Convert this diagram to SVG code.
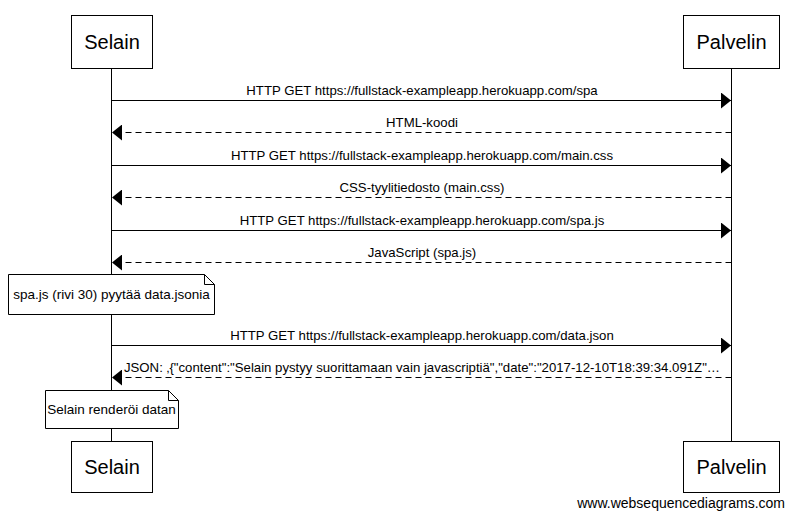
<svg xmlns="http://www.w3.org/2000/svg" width="794" height="518" viewBox="0 0 794 518">
<style>
text{font-family:"Liberation Sans",Arial,sans-serif;fill:#000}
.p{font-size:20px;text-anchor:middle}
.m{font-size:13.2px;text-anchor:middle}
.n{font-size:13.5px;text-anchor:middle}
.box{fill:#fff;stroke:#000;stroke-width:1}
.ll{stroke:#000;stroke-width:1}
.s{stroke:#000;stroke-width:1;fill:none}
.d{stroke:#000;stroke-width:1;fill:none;stroke-dasharray:6,4}
</style>
<defs>
<marker id="ah" viewBox="0 0 10 16" refX="10" refY="8" markerWidth="10" markerHeight="16" markerUnits="userSpaceOnUse" orient="auto">
<path d="M0,0 L10,8 L0,16 Z" fill="#000"/>
</marker>
</defs>
<rect width="794" height="518" fill="#fff"/>
<g id="lifelines">
<line class="ll" x1="111.5" y1="69" x2="111.5" y2="442"/>
<line class="ll" x1="731.5" y1="69" x2="731.5" y2="442"/>
</g>
<g id="connectors">
<line class="s" x1="111.5" y1="100.5" x2="731" y2="100.5" marker-end="url(#ah)"/>
<text class="m" x="422" y="95">HTTP GET https://fullstack-exampleapp.herokuapp.com/spa</text>
<line class="d" x1="731.5" y1="132.5" x2="112" y2="132.5" marker-end="url(#ah)"/>
<text class="m" x="422" y="127">HTML-koodi</text>
<line class="s" x1="111.5" y1="165.5" x2="731" y2="165.5" marker-end="url(#ah)"/>
<text class="m" x="422" y="160">HTTP GET https://fullstack-exampleapp.herokuapp.com/main.css</text>
<line class="d" x1="731.5" y1="197.5" x2="112" y2="197.5" marker-end="url(#ah)"/>
<text class="m" x="422" y="192">CSS-tyylitiedosto (main.css)</text>
<line class="s" x1="111.5" y1="230.5" x2="731" y2="230.5" marker-end="url(#ah)"/>
<text class="m" x="422" y="225">HTTP GET https://fullstack-exampleapp.herokuapp.com/spa.js</text>
<line class="d" x1="731.5" y1="262.5" x2="112" y2="262.5" marker-end="url(#ah)"/>
<text class="m" x="422" y="257">JavaScript (spa.js)</text>
<line class="s" x1="111.5" y1="345.5" x2="731" y2="345.5" marker-end="url(#ah)"/>
<text class="m" x="422" y="340">HTTP GET https://fullstack-exampleapp.herokuapp.com/data.json</text>
<line class="d" x1="731.5" y1="377.5" x2="112" y2="377.5" marker-end="url(#ah)"/>
<text class="m" x="422" y="372">JSON: ‚{"content":"Selain pystyy suorittamaan vain javascriptiä","date":"2017-12-10T18:39:34.091Z"…</text>
</g>
<g id="note1">
<path class="box" d="M8.5,274.5 H204.5 L214.5,284.5 V314.5 H8.5 Z"/>
<path class="s" d="M204.5,274.5 V284.5 H214.5"/>
<text class="n" x="111.5" y="299">spa.js (rivi 30) pyytää data.jsonia</text>
</g>
<g id="note2">
<path class="box" d="M45.5,390.5 H168.5 L178.5,400.5 V428.5 H45.5 Z"/>
<path class="s" d="M168.5,390.5 V400.5 H178.5"/>
<text class="n" x="111.5" y="414">Selain renderöi datan</text>
</g>
<g id="selain-top">
<rect class="box" x="71.5" y="15.5" width="81" height="53"/>
<text class="p" x="112" y="49">Selain</text>
</g>
<g id="palvelin-top">
<rect class="box" x="683.5" y="15.5" width="96" height="53"/>
<text class="p" x="731.5" y="49">Palvelin</text>
</g>
<g id="selain-bottom">
<rect class="box" x="71.5" y="441.5" width="81" height="51"/>
<text class="p" x="112" y="474">Selain</text>
</g>
<g id="palvelin-bottom">
<rect class="box" x="683.5" y="441.5" width="96" height="51"/>
<text class="p" x="731.5" y="474">Palvelin</text>
</g>
<text x="785" y="508" style="font-size:14px;text-anchor:end">www.websequencediagrams.com</text>
</svg>
